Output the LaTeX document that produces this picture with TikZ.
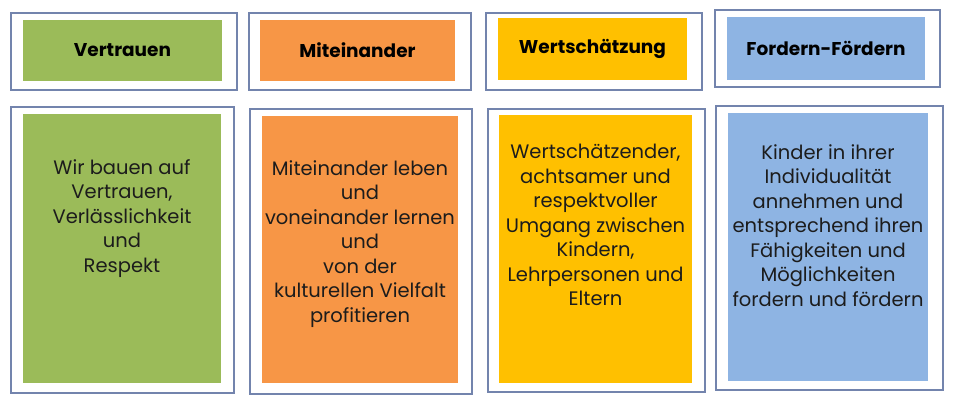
\documentclass[tikz,border=0pt]{standalone}
\usepackage{fontspec}
\setmainfont{Poppins}
\usetikzlibrary{fit}
\definecolor{frame}{HTML}{7384AD}
\definecolor{cgreen}{HTML}{9BBB59}
\definecolor{corange}{HTML}{F79646}
\definecolor{cgold}{HTML}{FFC000}
\definecolor{cblue}{HTML}{8EB4E3}
\definecolor{txt}{HTML}{1C1C1C}
\tikzset{
  outerbox/.style={draw=frame, line width=1.1pt, fill=white, inner sep=0pt},
  innerbox/.style={draw=none, inner sep=0pt},
  headtext/.style={font=\fontsize{18.5}{22}\selectfont\bfseries, text=black, inner sep=0pt},
  bodytext/.style={font=\fontsize{19.5}{24.5}\selectfont, text=txt, align=center, inner sep=0pt, anchor=north},
}
\begin{document}
\begin{tikzpicture}[x=1pt,y=-1pt]
\useasboundingbox (0,0) rectangle (966,401);
\fill[white] (0,0) rectangle (966,401);
% header row
\node[outerbox, fit={(11,13) (237,90)}] (o1) {};
\node[innerbox, fill=cgreen, fit={(23,20) (222,81)}] (h1) {};
\node[headtext] (l1) at (h1.center) {Vertrauen};
\node[outerbox, fit={(249,13) (471,90)}] (o2) {};
\node[innerbox, fill=corange, fit={(260,20) (455,81)}] (h2) {};
\node[headtext] (l2) at (h2.center) {Miteinander};
\node[outerbox, fit={(486,13) (702,90)}] (o3) {};
\node[innerbox, fill=cgold, fit={(498,18) (687,80)}] (h3) {};
\node[headtext] (l3) at (h3.center) {Wertschätzung};
\node[outerbox, fit={(715,10) (940,87)}] (o4) {};
\node[innerbox, fill=cblue, fit={(727,17) (925,80)}] (h4) {};
\node[headtext] (l4) at (h4.center) {Fordern-Fördern};
% body row
\node[outerbox, fit={(11,107) (234,393)}] (p1) {};
\node[innerbox, fill=cgreen, fit={(23,114) (221,383)}] (b1) {};
\node[bodytext] (t1) at (122,159) {Wir bauen auf\\Vertrauen,\\Verlässlichkeit\\und\\Respekt};
\node[outerbox, fit={(250,109) (472,394)}] (p2) {};
\node[innerbox, fill=corange, fit={(262,116) (458,383)}] (b2) {};
\node[bodytext] (t2) at (360,160) {Miteinander leben\\und\\voneinander lernen\\und\\von der\\kulturellen Vielfalt\\profitieren};
\node[outerbox, fit={(488,109) (705,392)}] (p3) {};
\node[innerbox, fill=cgold, fit={(499,115) (692,383)}] (b3) {};
\node[bodytext] (t3) at (595.5,144) {Wertschätzender,\\achtsamer und\\respektvoller\\Umgang zwischen\\Kindern,\\Lehrpersonen und\\Eltern};
\node[outerbox, fit={(716,106) (943,390)}] (p4) {};
\node[innerbox, fill=cblue, fit={(728,113) (928,381)}] (b4) {};
\node[bodytext] (t4) at (828,144) {Kinder in ihrer\\Individualität\\annehmen und\\entsprechend ihren\\Fähigkeiten und\\Möglichkeiten\\fordern und fördern};
\end{tikzpicture}
\end{document}
